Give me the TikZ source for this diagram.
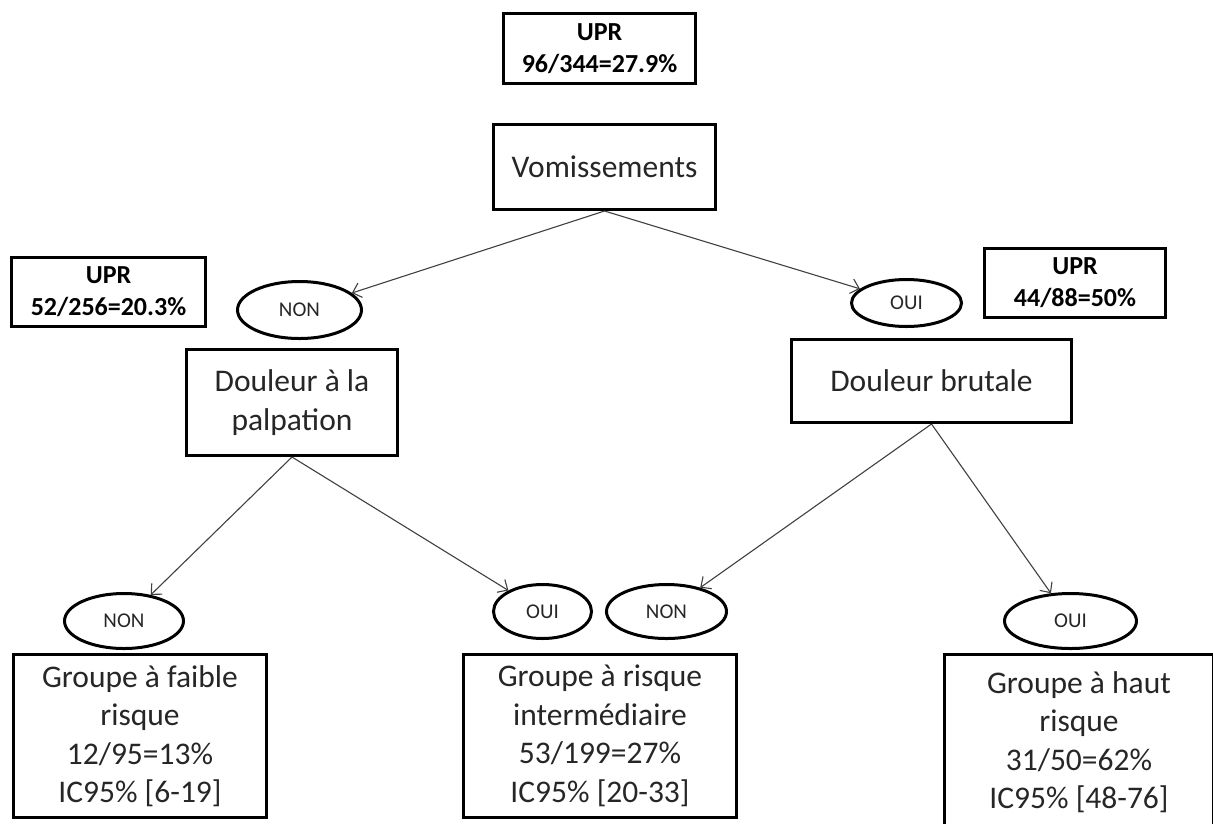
\documentclass[tikz,border=0pt]{standalone}
\usepackage{fontspec}
\setmainfont{Carlito}
\usetikzlibrary{arrows.meta,shapes.geometric}
\definecolor{txt}{HTML}{262626}
\definecolor{arr}{HTML}{404040}
\tikzset{
  box/.style={draw=black, line width=3pt, rectangle, inner sep=0pt, align=center,
              text=txt, font=\fontsize{31.5}{38.5}\selectfont},
  uprbox/.style={draw=black, line width=3pt, rectangle, inner sep=0pt, align=center,
              text=black, font=\fontsize{26}{32}\bfseries\selectfont},
  oval/.style={draw=black, line width=3pt, ellipse, inner sep=0pt,
              text=txt, font=\fontsize{21}{24}\selectfont},
  link/.style={draw=arr, line width=1.1pt, -{Straight Barb[length=8pt,width=15pt,line width=1.1pt]}}
}
\begin{document}
\begin{tikzpicture}[x=1pt,y=-1pt]
\useasboundingbox (0,0) rectangle (1213,823);
\clip (0,0) rectangle (1213,823);
% top
\node[uprbox, minimum width=192pt, minimum height=70pt] (upr0) at (599.5,48.5) {UPR\\96/344=27.9\%};
\node[box, minimum width=222pt, minimum height=85pt] (vom) at (604.5,167) {Vomissements};
% second level
\node[uprbox, minimum width=194pt, minimum height=69pt] (upr1) at (108.5,292) {UPR\\52/256=20.3\%};
\node[oval, minimum width=124pt, minimum height=57pt] (non1) at (299.5,310) {NON};
\node[oval, minimum width=110pt, minimum height=47pt] (oui1) at (906.5,303) {OUI};
\node[uprbox, minimum width=181pt, minimum height=69pt] (upr2) at (1075,283) {UPR\\44/88=50\%};
\node[box, minimum width=211pt, minimum height=106pt] (palp) at (292,402.5) {Douleur à la\\palpation};
\node[box, minimum width=280pt, minimum height=83pt] (brut) at (931.5,381) {Douleur brutale};
% third level
\node[oval, minimum width=119pt, minimum height=55pt] (non2) at (124,621) {NON};
\node[oval, minimum width=98pt, minimum height=54pt] (oui2) at (542.5,611.5) {OUI};
\node[oval, minimum width=120pt, minimum height=54pt] (non3) at (666.5,611.5) {NON};
\node[oval, minimum width=132pt, minimum height=55pt] (oui3) at (1070.5,621) {OUI};
\node[box, minimum width=253pt, minimum height=163pt] (g1) at (140,736) {Groupe à faible\\risque\\12/95=13\%\\IC95\% [6-19]};
\node[box, minimum width=273pt, minimum height=163pt] (g2) at (600,736) {Groupe à risque\\intermédiaire\\53/199=27\%\\IC95\% [20-33]};
\node[box, minimum width=269pt, minimum height=175pt] (g3) at (1079,742) {Groupe à haut\\risque\\31/50=62\%\\IC95\% [48-76]};
% connectors
\draw[link] (vom.south) -- (non1);
\draw[link] (vom.south) -- (oui1);
\draw[link] (palp.south) -- (non2);
\draw[link] (palp.south) -- (oui2);
\draw[link] (brut.south) -- (non3);
\draw[link] (brut.south) -- (oui3);
\end{tikzpicture}
\end{document}
